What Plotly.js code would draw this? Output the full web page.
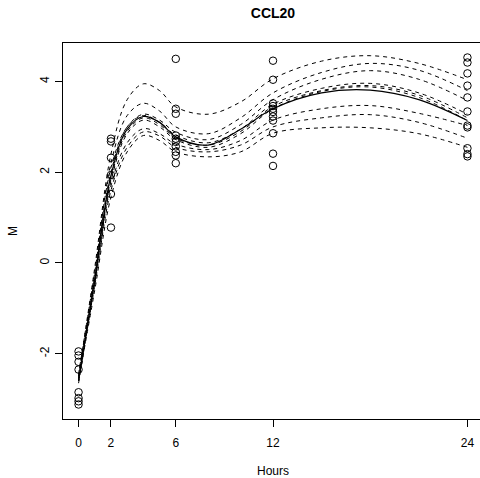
<!DOCTYPE html>
<html>
<head>
<meta charset="utf-8">
<script src="https://cdn.plot.ly/plotly-3.0.1.min.js"></script>
<style>
html,body{margin:0;padding:0;overflow:hidden;background:#fff;}
#chart{width:490px;height:478px;}
</style>
</head>
<body>
<div id="chart"></div>
<script>
// Observed points (hours, M)
var hours0 = [0,0,0,0,0,0,0,0];
var m0 = [-1.95,-2.04,-2.18,-2.35,-2.85,-2.98,-3.05,-3.12];
var hours2 = [2,2,2,2,2,2];
var m2 = [2.74,2.68,2.32,1.94,1.52,0.78];
var hours6 = [6,6,6,6,6,6,6,6,6,6];
var m6 = [4.50,3.40,3.29,2.81,2.74,2.67,2.57,2.45,2.37,2.20];
var hours12 = [12,12,12,12,12,12,12,12,12,12,12];
var m12 = [4.46,4.04,3.52,3.46,3.40,3.33,3.23,3.14,2.86,2.41,2.14];
var hours24 = [24,24,24,24,24,24,24,24,24,24,24];
var m24 = [4.53,4.42,4.18,3.91,3.65,3.34,3.03,2.99,2.53,2.40,2.35];

// Curve knots (hours) and fitted values
var knots = [0,1,2,3,4,5,6,8,10,12,15,18,21,24];
var fitMain = [-2.60,-0.35,1.93,2.95,3.23,3.10,2.78,2.60,2.95,3.40,3.75,3.81,3.60,3.14];
var fitA = [-2.50,-0.10,2.40,3.60,3.95,3.80,3.44,3.28,3.55,4.06,4.45,4.57,4.40,4.04];
var fitB = [-2.50,-0.20,2.20,3.25,3.52,3.35,3.00,2.85,3.20,3.75,4.20,4.40,4.25,3.80];
var fitC = [-2.55,-0.30,2.00,3.00,3.28,3.15,2.88,2.72,3.05,3.60,4.05,4.24,4.05,3.58];
var fitD = [-2.45,-0.20,2.10,3.00,3.25,3.10,2.82,2.65,2.95,3.50,3.85,3.96,3.75,3.28];
var fitE = [-2.60,-0.40,1.85,2.90,3.20,3.05,2.75,2.60,2.90,3.45,3.80,3.91,3.70,3.20];
var fitF = [-2.65,-0.45,1.80,2.85,3.15,3.00,2.72,2.55,2.85,3.40,3.78,3.88,3.65,3.14];
var fitG = [-2.50,-0.40,1.70,2.65,2.96,2.85,2.62,2.50,2.70,3.15,3.40,3.47,3.30,3.03];
var fitH = [-2.55,-0.50,1.60,2.55,2.89,2.80,2.55,2.45,2.60,3.00,3.20,3.27,3.10,2.75];
var fitI = [-2.60,-0.60,1.45,2.45,2.81,2.70,2.45,2.34,2.45,2.86,2.98,2.98,2.85,2.55];

var xTicks = [0,2,6,12,24];
var yTicks = [-2,0,2,4];

var traces = [];
var dashed = [fitA,fitB,fitC,fitD,fitE,fitF,fitG,fitH,fitI];
dashed.forEach(function(v){
  traces.push({x:knots,y:v,mode:'lines',type:'scatter',
    line:{color:'#000',width:1,dash:'4px,4px',shape:'spline',smoothing:1},hoverinfo:'skip'});
});
traces.push({x:knots,y:fitMain,mode:'lines',type:'scatter',
  line:{color:'#000',width:1.2,shape:'spline',smoothing:1}});
var px = [].concat(hours0,hours2,hours6,hours12,hours24);
var py = [].concat(m0,m2,m6,m12,m24);
traces.push({x:px,y:py,mode:'markers',type:'scatter',
  marker:{symbol:'circle-open',size:7.5,color:'#000',line:{width:1,color:'#000'}}});

var font = {family:'"Liberation Sans", Arial, Helvetica, sans-serif',color:'#000',size:12};
var layout = {
  width:490,height:478,
  margin:{l:63,r:7,t:43,b:58.5,pad:0},
  paper_bgcolor:'#fff',plot_bgcolor:'#fff',
  showlegend:false,
  font:font,
  title:{text:'<b>CCL20</b>',font:{family:font.family,size:14,color:'#000'},
    x:0.5,xref:'paper',y:1-13/478,yref:'container',yanchor:'middle'},
  xaxis:{range:[-0.96,24.96],tickvals:xTicks,ticktext:xTicks.map(String),
    ticks:'outside',ticklen:7,tickwidth:1,tickcolor:'#000',ticklabelstandoff:6,
    showline:true,mirror:true,linecolor:'#000',linewidth:1,
    showgrid:false,zeroline:false,tickfont:font,
    title:{text:'Hours',font:font,standoff:17}},
  yaxis:{range:[-3.44,4.85],tickvals:yTicks,ticktext:yTicks.map(String),
    ticks:'outside',ticklen:7,tickwidth:1,tickcolor:'#000',tickangle:-90,ticklabelstandoff:1,
    showline:true,mirror:true,linecolor:'#000',linewidth:1,
    showgrid:false,zeroline:false,tickfont:font,
    title:{text:'M',font:font,standoff:18}}
};
Plotly.newPlot('chart',traces,layout,{displayModeBar:false,staticPlot:true});
</script>
</body>
</html>
